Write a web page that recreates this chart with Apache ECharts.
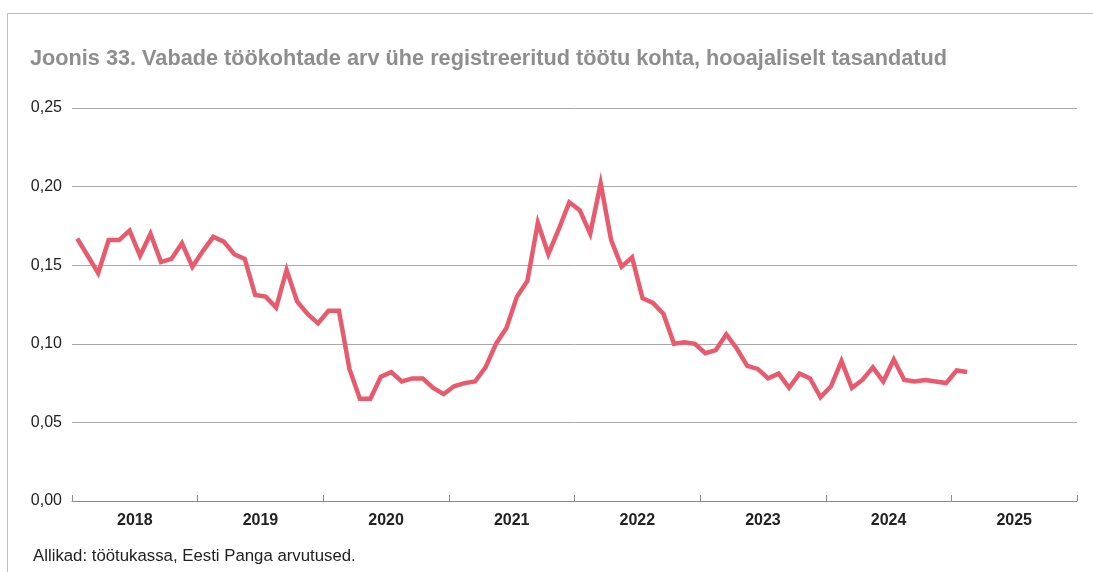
<!DOCTYPE html>
<html>
<head>
<meta charset="utf-8">
<script src="https://cdn.jsdelivr.net/npm/echarts@6/dist/echarts.min.js"></script>
<style>
  html, body { margin: 0; padding: 0; background: #fff; }
  #chart { width: 1093px; height: 572px; }
</style>
</head>
<body>
<div id="chart"></div>
<script>
// Year labels along the time axis
const years = ['2018', '2019', '2020', '2021', '2022', '2023', '2024', '2025'];

// Monthly values, January 2018 – February 2025
const values2018 = [0.167, 0.156, 0.145, 0.166, 0.166, 0.172, 0.156, 0.170, 0.152, 0.154, 0.164, 0.149];
const values2019 = [0.159, 0.168, 0.165, 0.157, 0.154, 0.131, 0.130, 0.123, 0.147, 0.127, 0.119, 0.113];
const values2020 = [0.121, 0.121, 0.084, 0.065, 0.065, 0.079, 0.082, 0.076, 0.078, 0.078, 0.072, 0.068];
const values2021 = [0.073, 0.075, 0.076, 0.085, 0.100, 0.110, 0.130, 0.140, 0.177, 0.157, 0.173, 0.190];
const values2022 = [0.185, 0.170, 0.202, 0.166, 0.149, 0.155, 0.129, 0.126, 0.119, 0.100, 0.101, 0.100];
const values2023 = [0.094, 0.096, 0.106, 0.097, 0.086, 0.084, 0.078, 0.081, 0.072, 0.081, 0.078, 0.066];
const values2024 = [0.073, 0.089, 0.072, 0.077, 0.085, 0.076, 0.090, 0.077, 0.076, 0.077, 0.076, 0.075];
const values2025 = [0.083, 0.082];

const allValues = [].concat(values2018, values2019, values2020, values2021,
                            values2022, values2023, values2024, values2025);

// Each month sits in the middle of its slot on a month-count axis
const seriesData = allValues.map((v, i) => [i + 0.5, v]);

const chart = echarts.init(document.getElementById('chart'), null, { renderer: 'canvas' });

chart.setOption({
  backgroundColor: '#ffffff',
  animation: false,
  title: {
    text: 'Joonis 33. Vabade töökohtade arv ühe registreeritud töötu kohta, hooajaliselt tasandatud',
    left: 25,
    top: 43,
    textStyle: {
      fontFamily: 'Liberation Sans, Arial, sans-serif',
      fontSize: 21.7,
      fontWeight: 'bold',
      color: '#8e8e8e'
    }
  },
  grid: { left: 72, right: 16, top: 108, bottom: 71, containLabel: false },
  xAxis: [
    {
      type: 'value',
      min: 0,
      max: years.length * 12,
      show: false
    },
    {
      type: 'category',
      data: years,
      position: 'bottom',
      boundaryGap: true,
      axisLine: { show: true, lineStyle: { color: '#8a8a8a', width: 1 } },
      axisTick: { show: true, inside: true, length: 6, lineStyle: { color: '#8a8a8a' } },
      axisLabel: {
        color: '#222',
        fontFamily: 'Liberation Sans, Arial, sans-serif',
        fontSize: 16,
        fontWeight: 'bold',
        margin: 12
      },
      splitLine: { show: false }
    }
  ],
  yAxis: {
    type: 'value',
    min: 0,
    max: 0.25,
    interval: 0.05,
    axisLine: { show: false },
    axisTick: { show: false },
    axisLabel: {
      color: '#222',
      fontFamily: 'Liberation Sans, Arial, sans-serif',
      fontSize: 16,
      margin: 10,
      padding: [3, 0, 0, 0],
      formatter: v => v.toFixed(2).replace('.', ',')
    },
    splitLine: { lineStyle: { color: '#a8a8a8', width: 1 } }
  },
  series: [
    {
      type: 'line',
      xAxisIndex: 0,
      data: seriesData,
      showSymbol: false,
      lineStyle: { color: '#e85b6e', width: 4.5, join: 'miter' },
      itemStyle: { color: '#e85b6e' },
      z: 5
    }
  ],
  graphic: [
    {
      type: 'line',
      shape: { x1: 7.5, y1: 13.5, x2: 1093, y2: 13.5 },
      style: { stroke: '#bdbdbd', lineWidth: 1 }
    },
    {
      type: 'line',
      shape: { x1: 7.5, y1: 13.5, x2: 7.5, y2: 572 },
      style: { stroke: '#bdbdbd', lineWidth: 1 }
    },
    {
      type: 'text',
      left: 33,
      top: 548,
      style: {
        text: 'Allikad: töötukassa, Eesti Panga arvutused.',
        fontFamily: 'Liberation Sans, Arial, sans-serif',
        fontSize: 16.8,
        fill: '#222'
      }
    }
  ]
});
</script>
</body>
</html>
